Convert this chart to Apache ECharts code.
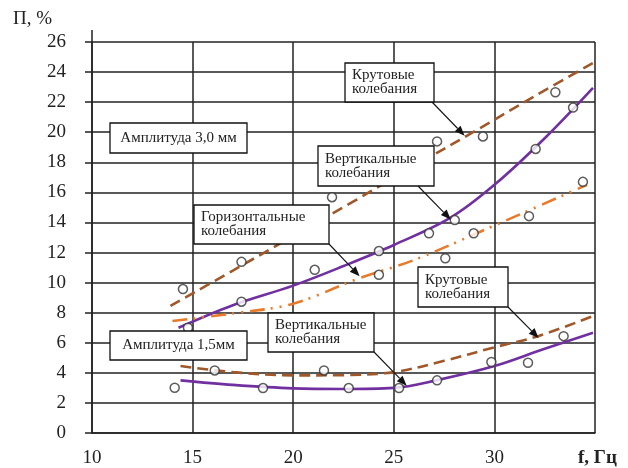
<!DOCTYPE html>
<html>
<head>
<meta charset="utf-8">
<script src="https://cdn.jsdelivr.net/npm/echarts@6/dist/echarts.min.js"></script>
<style>
  html, body { margin: 0; padding: 0; background: #fff; }
  #chart { width: 628px; height: 468px; }
</style>
</head>
<body>
<div id="chart"></div>
<script>
// Axis ranges (f, Гц and П, %)
const xMin = 10, xMax = 35, xStep = 5;
const yMin = 0, yMax = 26, yStep = 2;

// Trend curves, amplitude 3,0 мм
const krut30Trend = [[13.9, 8.45], [17, 10.8], [20, 13.1], [23, 15.4], [26, 17.75], [29, 20.05], [32, 22.4], [34.9, 24.6]];
const vert30Trend = [[14.3, 7.0], [17, 8.5], [20, 9.8], [22.5, 11.1], [25, 12.5], [27.8, 14.3], [30, 16.5], [32.5, 19.6], [34.9, 22.95]];
const hor30Trend  = [[14.0, 7.45], [17, 7.95], [20, 8.6], [23.3, 10.3], [26, 11.5], [30, 13.8], [34.6, 16.5]];

// Trend curves, amplitude 1,5 мм
const krut15Trend = [[14.4, 4.45], [17, 4.05], [20, 3.83], [22.5, 3.85], [25, 4.05], [27.5, 4.8], [30, 5.7], [32.2, 6.45], [34.9, 7.78]];
const vert15Trend = [[14.4, 3.5], [17, 3.2], [20, 2.97], [22.5, 2.93], [25, 3.0], [27.1, 3.5], [30, 4.45], [32.5, 5.6], [34.9, 6.66]];

// Measured points
const krut30Points = [[14.52, 9.57], [17.43, 11.38], [21.93, 15.68], [27.15, 19.39], [29.43, 19.72], [33.03, 22.66]];
const vert30Points = [[14.77, 7.0], [17.43, 8.73], [21.07, 10.85], [24.26, 12.1], [26.75, 13.28], [28.03, 14.16], [32.05, 18.89], [33.91, 21.64]];
const hor30Points  = [[24.26, 10.52], [27.56, 11.62], [28.97, 13.28], [31.72, 14.42], [34.4, 16.7]];
const krut15Points = [[16.1, 4.16], [21.53, 4.16], [31.67, 4.67], [33.44, 6.44]];
const vert15Points = [[14.11, 3.01], [18.5, 2.99], [22.76, 2.99], [25.26, 2.99], [27.15, 3.5], [29.85, 4.72]];

// Callout targets on the curves (f, П)
const krut30Target = [28.52, 19.77];
const vert30Target = [27.83, 14.2];
const hor30Target  = [23.3, 10.43];
const vert15Target = [25.64, 3.15];
const krut15Target = [32.2, 6.32];

const COL_KRUT = '#a0582a';
const COL_HOR  = '#e87a2c';
const COL_VERT = '#7030a0';
const SERIF = '"Liberation Serif", "DejaVu Serif", serif';

const chart = echarts.init(document.getElementById('chart'), null, { renderer: 'canvas' });

function trend(data, color, type) {
  return {
    type: 'line', data, smooth: 0.35, symbol: 'none', silent: true, z: 3,
    lineStyle: { color, width: 2.6, type }
  };
}
function points(data) {
  return {
    type: 'scatter', data, symbol: 'circle', symbolSize: 9, z: 4, silent: true,
    itemStyle: { color: '#fff', borderColor: '#333', borderWidth: 1.5 }
  };
}

chart.setOption({
  animation: false,
  backgroundColor: '#fff',
  grid: { left: 92, right: 33, top: 42, bottom: 34 },
  xAxis: {
    type: 'value', min: xMin, max: xMax, interval: xStep,
    axisLine: { show: true, lineStyle: { color: '#222', width: 1.5 } },
    axisTick: { show: false },
    axisLabel: {
      margin: 16, color: '#222', fontFamily: SERIF, fontSize: 19,
      formatter: v => (v === xMax ? '' : String(v))
    },
    splitLine: { show: true, lineStyle: { color: '#222', width: 1.5 } }
  },
  yAxis: {
    type: 'value', min: yMin, max: yMax, interval: yStep,
    axisLine: { show: true, lineStyle: { color: '#222', width: 1.5 } },
    axisTick: { show: true, inside: false, length: 7, lineStyle: { color: '#222', width: 1.5 } },
    axisLabel: { margin: 26, color: '#222', fontFamily: SERIF, fontSize: 19 },
    splitLine: { show: true, lineStyle: { color: '#222', width: 1.5 } }
  },
  series: [
    trend(krut30Trend, COL_KRUT, [11, 6]),
    trend(vert30Trend, COL_VERT, 'solid'),
    trend(hor30Trend, COL_HOR, [15, 6, 2, 7, 2, 7]),
    trend(krut15Trend, COL_KRUT, [11, 6]),
    trend(vert15Trend, COL_VERT, 'solid'),
    points(krut30Points),
    points(vert30Points),
    points(hor30Points),
    points(krut15Points),
    points(vert15Points)
  ]
});

// Callout boxes with leader arrows
const notes = [
  { text: 'Амплитуда 3,0 мм', box: [110, 123, 137, 30], center: true },
  { text: 'Крутовые\nколебания', box: [345, 63, 89, 39], from: [432, 102], target: krut30Target },
  { text: 'Вертикальные\nколебания', box: [318, 146, 116, 40], from: [418, 186], target: vert30Target },
  { text: 'Горизонтальные\nколебания', box: [194, 205, 135, 39], from: [329, 244], target: hor30Target },
  { text: 'Амплитуда 1,5мм', box: [110, 331, 137, 29], center: true },
  { text: 'Вертикальные\nколебания', box: [268, 313, 106, 39], from: [374, 352], target: vert15Target },
  { text: 'Крутовые\nколебания', box: [418, 267, 90, 40], from: [508, 307], target: krut15Target }
];

const elements = [];
// Y axis runs slightly past the top grid line
const yTop = chart.convertToPixel({ gridIndex: 0 }, [xMin, yMax]);
elements.push({
  type: 'line', z: 10,
  shape: { x1: yTop[0], y1: yTop[1], x2: yTop[0], y2: yTop[1] - 12 },
  style: { stroke: '#222', lineWidth: 1.5 }
});

notes.forEach(n => {
  const [bx, by, bw, bh] = n.box;
  if (n.target) {
    const tip = chart.convertToPixel({ gridIndex: 0 }, n.target);
    const [fx, fy] = n.from;
    const ang = Math.atan2(tip[1] - fy, tip[0] - fx);
    const L = 10, W = 4;
    const bxp = tip[0] - L * Math.cos(ang), byp = tip[1] - L * Math.sin(ang);
    elements.push({
      type: 'line', z: 20,
      shape: { x1: fx, y1: fy, x2: bxp, y2: byp },
      style: { stroke: '#111', lineWidth: 1.1 }
    });
    elements.push({
      type: 'polygon', z: 20,
      shape: { points: [
        [tip[0], tip[1]],
        [bxp + W * Math.sin(ang), byp - W * Math.cos(ang)],
        [bxp - W * Math.sin(ang), byp + W * Math.cos(ang)]
      ] },
      style: { fill: '#111' }
    });
  }
  elements.push({
    type: 'rect', z: 30,
    shape: { x: bx, y: by, width: bw, height: bh },
    style: { fill: '#fff', stroke: '#111', lineWidth: 1.3 }
  });
  elements.push({
    type: 'text', z: 31,
    x: n.center ? bx + bw / 2 : bx + 7,
    y: by + bh / 2,
    style: {
      text: n.text, fill: '#222', font: '15px ' + SERIF,
      align: n.center ? 'center' : 'left', verticalAlign: 'middle', lineHeight: 14
    }
  });
});

// Axis titles
elements.push({
  type: 'text', z: 10, x: 13, y: 19,
  style: { text: 'П, %', fill: '#222', font: '19px ' + SERIF, verticalAlign: 'middle' }
});
elements.push({
  type: 'text', z: 10, x: 578, y: 458,
  style: { text: 'f, Гц', fill: '#222', font: 'bold 19px ' + SERIF, verticalAlign: 'middle' }
});

chart.setOption({ graphic: { elements } });
</script>
</body>
</html>
